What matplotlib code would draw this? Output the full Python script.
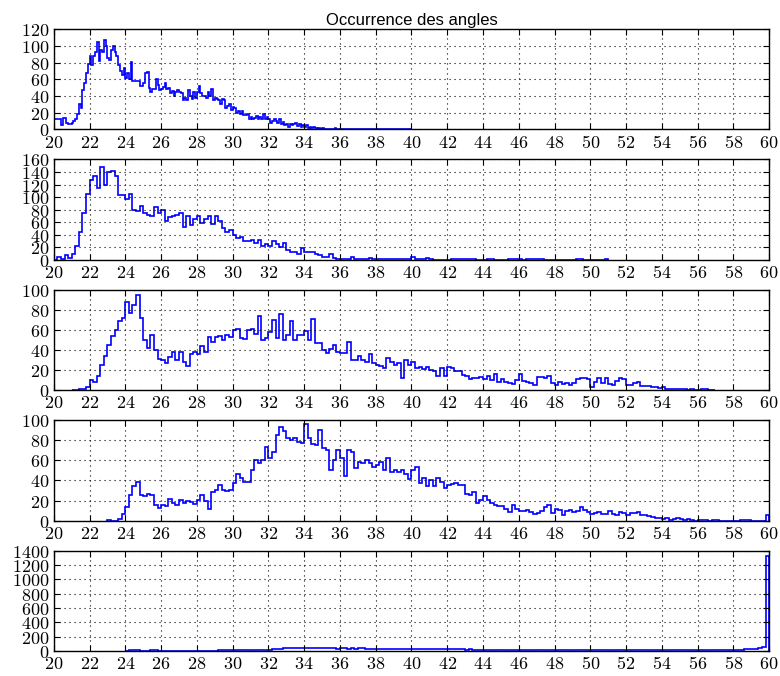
import numpy as np
import matplotlib
matplotlib.use('Agg')
import matplotlib.pyplot as plt
from matplotlib.ticker import FuncFormatter, MultipleLocator

plt.rcParams['mathtext.fontset'] = 'cm'

title = 'Occurrence des angles'

# panel 1: bins of 0.1 starting at 19.9
start1, width1 = 19.9, 0.1
counts1 = [53,
    13, 13, 13, 13, 5, 14, 14, 8, 6, 6,
    8, 10, 13, 18, 30, 25, 47, 55, 67, 78,
    88, 77, 88, 92, 105, 82, 95, 92, 107, 100,
    85, 83, 95, 100, 92, 88, 77, 70, 65, 73,
    62, 68, 60, 81, 58, 58, 58, 58, 52, 52,
    55, 68, 69, 50, 45, 48, 48, 60, 53, 47,
    48, 51, 55, 48, 50, 43, 46, 40, 45, 47,
    45, 44, 35, 37, 35, 47, 40, 36, 45, 37,
    45, 52, 43, 40, 40, 37, 45, 40, 48, 35,
    38, 36, 35, 30, 36, 35, 25, 28, 30, 23,
    27, 25, 20, 22, 18, 22, 17, 17, 18, 13,
    15, 12, 14, 16, 12, 15, 12, 18, 13, 15,
    12, 8, 10, 12, 10, 8, 12, 7, 9, 5,
    7, 3, 7, 5, 7, 8, 4, 6, 3, 5,
    3, 5, 2, 3, 2, 3, 2, 1, 2, 1,
    2, 1, 1, 1, 0, 1, 1, 2, 1, 0,
    1, 1, 0, 0, 1, 0, 1, 1, 0, 0,
    0, 0, 1, 0, 0, 0, 0, 0, 1, 0,
    0, 0, 0, 1, 0, 0, 0, 0, 0, 0,
    0, 0, 0, 0, 0, 0, 0, 0, 0, 1]

# panels 2-5: bins of 0.2
width = 0.2
start2 = 20.0
counts2 = [
    0, 4, 2, 8, 3,
    10, 22, 45, 75, 105,
    128, 133, 115, 148, 120,
    140, 142, 133, 103, 103,
    97, 105, 80, 78, 86,
    75, 72, 70, 84, 74,
    80, 62, 68, 70, 72,
    75, 53, 70, 55, 65,
    70, 58, 65, 70, 57,
    70, 62, 50, 45, 48,
    40, 35, 37, 30, 30,
    32, 27, 32, 22, 25,
    22, 30, 25, 20, 27,
    15, 12, 12, 10, 18,
    12, 12, 13, 10, 8,
    5, 5, 10, 3, 2,
    2, 2, 2, 4, 2,
    2, 1, 2, 3, 1,
    2, 1, 1, 2, 1,
    1, 1, 2, 1, 1,
    4, 1, 1, 1, 3,
    1, 0, 0, 0, 0,
    0, 2, 1, 2, 1,
    1, 1, 1, 0, 0,
    0, 1, 1, 0, 0,
    0, 0, 1, 1, 2,
    1, 0, 2, 1, 1,
    1, 1, 0, 0, 0,
    0, 0, 0, 0, 0,
    0, 1, 1, 0, 0,
    0, 0, 0, 0, 1]

start3 = 21.0
counts3 = [
    0, 0, 1, 1, 3,
    10, 8, 14, 25, 34,
    45, 54, 60, 69, 72,
    88, 77, 85, 95, 72,
    50, 42, 55, 40, 31,
    30, 27, 33, 38, 30,
    38, 28, 24, 36, 38,
    36, 44, 38, 53, 48,
    53, 54, 50, 55, 53,
    60, 61, 52, 51, 60,
    61, 56, 74, 50, 52,
    58, 70, 52, 76, 50,
    55, 69, 50, 55, 55,
    59, 50, 71, 47, 47,
    40, 37, 41, 45, 38,
    37, 37, 48, 30, 30,
    34, 30, 28, 36, 27,
    25, 24, 22, 32, 28,
    25, 27, 12, 30, 25,
    28, 22, 23, 21, 23,
    20, 19, 14, 22, 14,
    23, 22, 19, 19, 15,
    14, 11, 12, 12, 13,
    11, 14, 10, 16, 8,
    11, 8, 7, 6, 10,
    16, 9, 8, 7, 5,
    13, 13, 12, 14, 7,
    5, 8, 6, 7, 5,
    7, 11, 12, 12, 11,
    3, 8, 12, 7, 12,
    6, 5, 9, 12, 11,
    5, 5, 7, 8, 4,
    4, 4, 3, 3, 2,
    3, 1, 1, 1, 1,
    1, 1, 0, 1, 0,
    0, 1, 1, 0, 0]

start4 = 23.0
counts4 = [
    1, 0, 0, 2, 7,
    14, 26, 34, 38, 26,
    25, 27, 26, 16, 13,
    16, 15, 22, 18, 16,
    21, 18, 20, 19, 17,
    21, 26, 20, 12, 28,
    30, 35, 30, 29, 30,
    37, 46, 42, 38, 38,
    50, 60, 57, 60, 73,
    62, 68, 85, 93, 89,
    82, 80, 82, 78, 77,
    96, 82, 76, 75, 90,
    72, 70, 50, 60, 70,
    62, 44, 70, 68, 52,
    58, 57, 60, 57, 53,
    55, 58, 50, 62, 48,
    50, 48, 50, 46, 41,
    50, 53, 37, 42, 34,
    40, 34, 42, 38, 32,
    35, 36, 37, 35, 35,
    27, 26, 28, 18, 21,
    25, 21, 18, 16, 15,
    15, 12, 9, 16, 12,
    10, 10, 11, 9, 7,
    8, 10, 14, 16, 8,
    12, 11, 6, 10, 11,
    9, 10, 14, 11, 9,
    7, 8, 9, 7, 7,
    10, 7, 6, 9, 8,
    6, 8, 8, 9, 6,
    6, 5, 4, 3, 3,
    2, 3, 1, 2, 3,
    2, 1, 2, 1, 0,
    1, 1, 1, 0, 1,
    1, 0, 0, 0, 0,
    0, 0, 1, 1, 1,
    0, 0, 0, 0, 6]

start5 = 24.0
counts5 = [
    4, 8, 12, 9, 6,
    5, 6, 8, 7, 5,
    4, 5, 6, 5, 4,
    5, 6, 5, 4, 5,
    5, 6, 5, 4, 6,
    6, 7, 8, 7, 8,
    10, 12, 11, 10, 12,
    14, 15, 16, 18, 20,
    20, 22, 25, 30, 38,
    48, 42, 40, 44, 42,
    45, 40, 38, 42, 36,
    38, 35, 40, 36, 34,
    38, 35, 32, 36, 33,
    35, 38, 34, 30, 32,
    34, 30, 28, 32, 30,
    28, 30, 32, 28, 26,
    30, 28, 26, 28, 25,
    26, 28, 24, 26, 25,
    24, 22, 25, 23, 22,
    20, 22, 19, 20, 18,
    19, 17, 18, 16, 18,
    17, 15, 16, 14, 15,
    16, 14, 13, 15, 12,
    14, 13, 15, 12, 14,
    12, 13, 11, 12, 10,
    12, 11, 12, 10, 11,
    10, 11, 9, 10, 11,
    10, 9, 10, 11, 9,
    10, 9, 8, 10, 9,
    9, 8, 10, 8, 9,
    9, 10, 8, 9, 10,
    10, 9, 11, 10, 12,
    11, 12, 13, 12, 14,
    14, 15, 16, 15, 17,
    18, 20, 19, 22, 24,
    26, 30, 38, 55, 1330]

panels = [
    (start1, width1, counts1, 120, 20),
    (start2, width, counts2, 160, 20),
    (start3, width, counts3, 100, 20),
    (start4, width, counts4, 100, 20),
    (start5, width, counts5, 1400, 200),
]

fig, axes = plt.subplots(5, 1, figsize=(7.8, 6.76), dpi=100)
fig.subplots_adjust(left=0.069, right=0.986, top=0.957, bottom=0.037, hspace=0.3)

fmt = FuncFormatter(lambda v, p: r'$%d$' % v)

for ax, (x0, w, c, ymax, ystep) in zip(axes, panels):
    c = np.array(c, dtype=float)
    edges = x0 + w * np.arange(len(c) + 1)
    ax.stairs(c, edges, color='#0000ff', linewidth=1.2)
    ax.set_xlim(20, 60)
    ax.set_ylim(0, ymax)
    ax.xaxis.set_major_locator(MultipleLocator(2))
    ax.yaxis.set_major_locator(MultipleLocator(ystep))
    ax.xaxis.set_major_formatter(fmt)
    ax.yaxis.set_major_formatter(fmt)
    ax.grid(True, color='black', linestyle=(0, (1, 3.5)), linewidth=0.8)
    ax.tick_params(direction='in', top=True, right=True, length=4,
                   labelsize=13, pad=3)
    for s in ax.spines.values():
        s.set_linewidth(1.0)

axes[0].set_title(title, fontsize=12, family=['Liberation Sans', 'DejaVu Sans'], pad=3)

fig.savefig('out.png', dpi=100)
